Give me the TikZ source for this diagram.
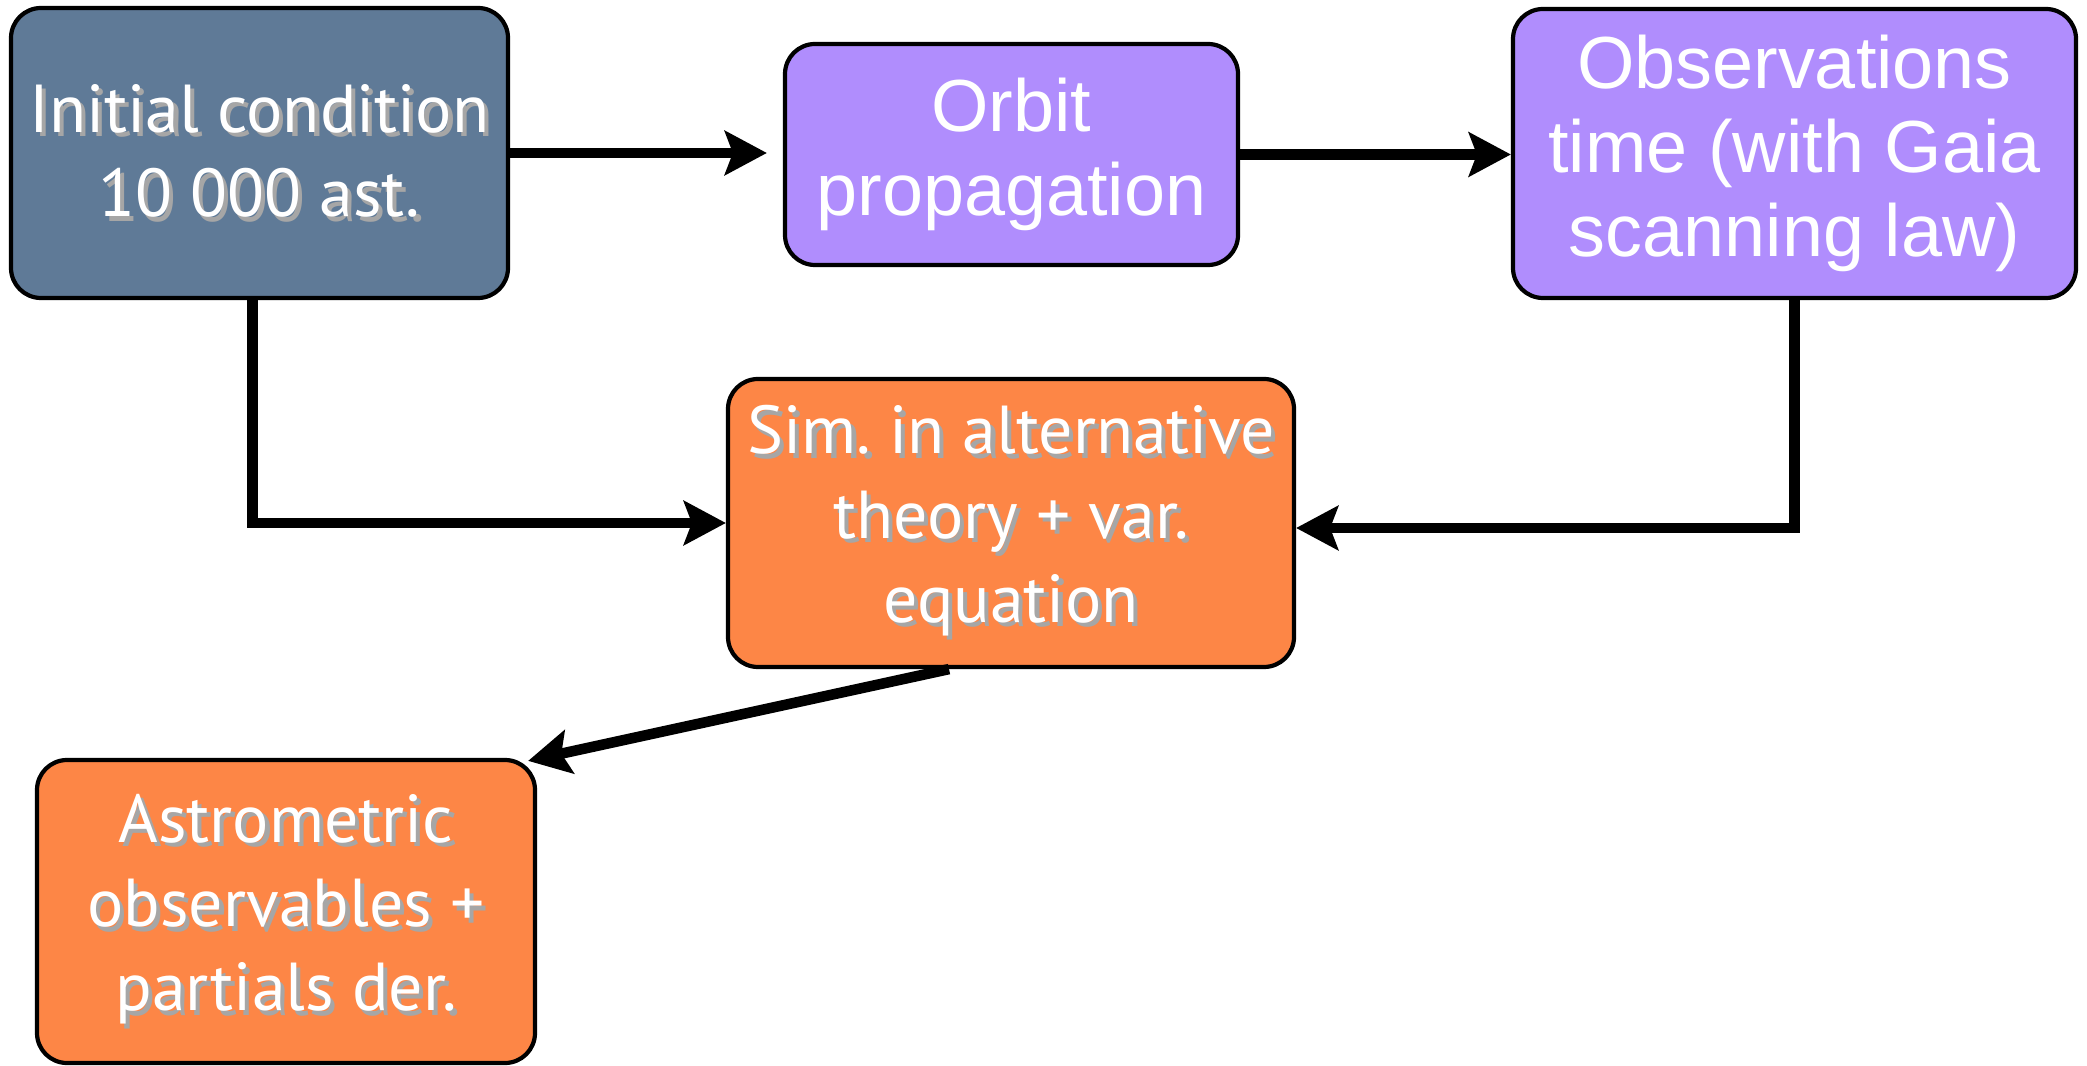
\documentclass[tikz,border=0pt]{standalone}
\usepackage{fontspec}
\setmainfont{Liberation Sans}
\newfontfamily\gillfont{PT Sans}
\usetikzlibrary{arrows.meta, positioning}

\definecolor{slateblue}{HTML}{5F7A97}
\definecolor{lilac}{HTML}{B08DFD}
\definecolor{tangerine}{HTML}{FD8646}

\newcommand{\shtxt}[1]{\makebox[0pt][l]{\kern1.2pt\raisebox{-1.3pt}{\textcolor{black!35}{#1}}}#1}
\frenchspacing

\begin{document}
\begin{tikzpicture}[
  box/.style={draw=black, line width=1.2pt, rounded corners=0.3cm, text=white, align=center, inner sep=0pt},
  gill/.style={box, font=\gillfont\fontsize{19.3}{24}\selectfont},
  helv/.style={box, font=\fontsize{21}{24}\selectfont},
  flow/.style={line width=3pt, -{Stealth[length=0.42cm, width=0.44cm, inset=0.08cm]}}
]
\useasboundingbox (0,0) rectangle (20.87,-10.66);

\node[gill, fill=slateblue, minimum width=4.97cm, minimum height=2.90cm] (init) at (2.595,-1.53)
  {\shtxt{Initial condition}\\\shtxt{10 000 ast.}};
\node[helv, fill=lilac, minimum width=4.53cm, minimum height=2.21cm] (orbit) at (10.115,-1.545)
  {Orbit\\propagation};
\node[helv, fill=lilac, minimum width=5.63cm, minimum height=2.89cm] (obs) at (17.945,-1.535)
  {Observations\\time (with Gaia\\scanning law)};
\node[gill, fill=tangerine, minimum width=5.66cm, minimum height=2.88cm] (sim) at (10.11,-5.23)
  {\shtxt{Sim. in alternative}\\\shtxt{theory + var.}\\\shtxt{equation}};
\node[gill, fill=tangerine, minimum width=4.98cm, minimum height=3.03cm] (astro) at (2.86,-9.115)
  {\shtxt{Astrometric}\\\shtxt{observables +}\\\shtxt{partials der.}};

\draw[flow, shorten >=0.16cm] (init.east) -- (init.east -| orbit.west);
\draw[flow] (orbit.east) -- (orbit.east -| obs.west);
\draw[flow] ([xshift=-0.07cm]init.south) |- (sim.west);
\draw[flow] (obs.south) |- ([yshift=-0.05cm]sim.east);
\draw[flow] ([xshift=-0.62cm]sim.south) -- ([shift={(-0.09cm,-0.03cm)}]astro.north east);
\end{tikzpicture}
\end{document}
